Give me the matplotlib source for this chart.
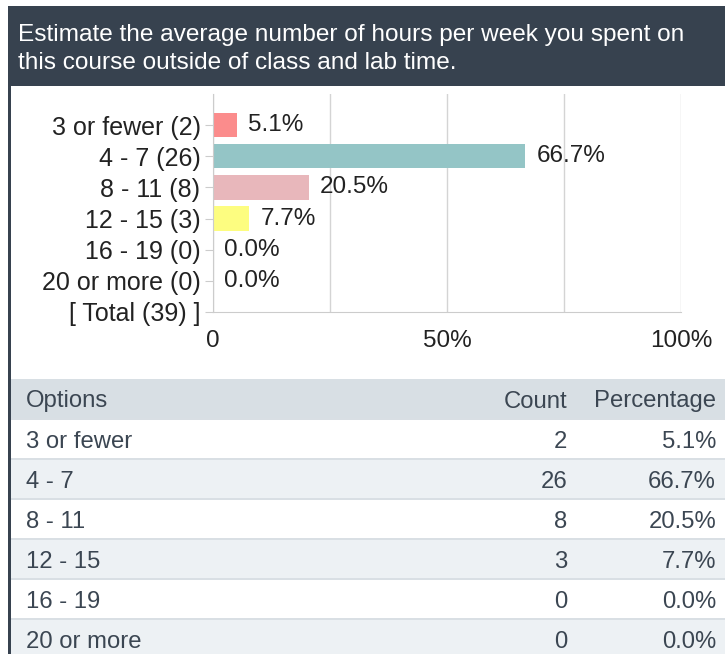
import matplotlib.pyplot as plt
from matplotlib.patches import Rectangle

plt.rcParams['font.family'] = ['Liberation Sans', 'DejaVu Sans']

title = "Estimate the average number of hours per week you spent on\nthis course outside of class and lab time."
options = ["3 or fewer", "4 - 7", "8 - 11", "12 - 15", "16 - 19", "20 or more"]
counts = [2, 26, 8, 3, 0, 0]
percents = [5.1, 66.7, 20.5, 7.7, 0.0, 0.0]
total = 39
bar_colors = ["#fb8c8c", "#94c5c6", "#e8b7bb", "#fdfd80", "#cccccc", "#cccccc"]

W, H = 725, 654
fig = plt.figure(figsize=(W / 100, H / 100), dpi=100)
fig.patch.set_facecolor("white")

def fx(px):
    return px / W

def fy(py):
    return 1 - py / H

dark = "#37424f"
# header band + left border
fig.patches.append(Rectangle((fx(8), fy(86)), fx(W - 8), 80 / H, transform=fig.transFigure,
                             facecolor=dark, edgecolor="none", zorder=0))
fig.patches.append(Rectangle((fx(8), 0), fx(3), fy(86), transform=fig.transFigure,
                             facecolor=dark, edgecolor="none", zorder=0))
fig.text(fx(18), fy(49), title, color="white", fontsize=17.6, va="center", ha="left",
         linespacing=1.35)

# bar chart
ax = fig.add_axes([fx(213), fy(312), fx(681 - 213), (312 - 94) / H])
labels = [f"{o} ({c})" for o, c in zip(options, counts)] + [f"[ Total ({total}) ]"]
ypos = list(range(len(labels)))
ax.barh(ypos[:len(percents)], percents, height=0.78, color=bar_colors, zorder=2)
for y, p in zip(ypos, percents):
    ax.text(p + 2.4, y, f"{p:.1f}%", va="center", ha="left", fontsize=17.5, color="#222222", zorder=3)
ax.set_xlim(0, 100)
ax.set_ylim(6, -1)
ax.set_yticks(ypos)
ax.set_yticklabels(labels, fontsize=18, color="#222222")
ax.set_xticks([0, 25, 50, 75, 100])
ax.set_xticklabels(["0", "", "50%", "", "100%"], fontsize=17.5, color="#222222")
ax.tick_params(axis="x", length=0, pad=13)
ax.tick_params(axis="y", length=6, color="#cccccc", pad=3)
ax.grid(axis="x", color="#d4d4d4", linewidth=1, zorder=0)
for s in ["top", "right"]:
    ax.spines[s].set_visible(False)
for s in ["left", "bottom"]:
    ax.spines[s].set_color("#cccccc")

# table
row_h = 40
y0 = 379
fig.patches.append(Rectangle((fx(11), fy(y0 + row_h)), fx(W - 11), row_h / H, transform=fig.transFigure,
                             facecolor="#d8dfe4", edgecolor="none"))
tcol = "#3b4652"
fs = 17.2
fig.text(fx(26), fy(y0 + row_h / 2), "Options", fontsize=fs, color=tcol, va="center_baseline")
fig.text(fx(567), fy(y0 + row_h / 2), "Count", fontsize=fs, color=tcol, va="center_baseline", ha="right")
fig.text(fx(716), fy(y0 + row_h / 2), "Percentage", fontsize=fs, color=tcol, va="center_baseline", ha="right")
for i, (o, c, p) in enumerate(zip(options, counts, percents)):
    top = y0 + row_h * (i + 1)
    bg = "#ffffff" if i % 2 == 0 else "#edf1f4"
    fig.patches.append(Rectangle((fx(11), fy(top + row_h)), fx(W - 11), row_h / H,
                                 transform=fig.transFigure, facecolor=bg, edgecolor="none"))
    fig.patches.append(Rectangle((fx(11), fy(top + 1)), fx(W - 11), 2 / H,
                                 transform=fig.transFigure, facecolor="#d9dfe4", edgecolor="none"))
    cy = fy(top + row_h / 2)
    fig.text(fx(26), cy, o, fontsize=fs, color=tcol, va="center_baseline")
    fig.text(fx(567), cy, str(c), fontsize=fs, color=tcol, va="center_baseline", ha="right")
    fig.text(fx(716), cy, f"{p:.1f}%", fontsize=fs, color=tcol, va="center_baseline", ha="right")

fig.savefig("out.png", dpi=100)
